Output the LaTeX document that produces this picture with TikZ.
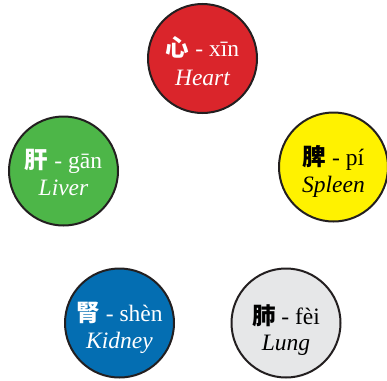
\documentclass[tikz,border=0pt]{standalone}
\usepackage{fontspec}
\setmainfont{Liberation Serif}
\newfontfamily\cjk{Noto Sans CJK SC}
\usetikzlibrary{calc}
\definecolor{hred}{RGB}{218,37,43}
\definecolor{hgreen}{RGB}{77,182,72}
\definecolor{hyellow}{RGB}{255,242,0}
\definecolor{hblue}{RGB}{4,110,178}
\definecolor{hgray}{RGB}{230,231,232}
\definecolor{outl}{RGB}{35,31,32}
\begin{document}
\begin{tikzpicture}[x=1pt,y=-1pt,
  organ/.style={circle,draw=outl,line width=2pt,minimum size=109pt,inner sep=0pt},
  lineone/.style={anchor=base,inner sep=0pt,font=\fontsize{23.5}{27}\selectfont},
  linetwo/.style={anchor=base,inner sep=0pt,font=\fontsize{23.5}{27}\selectfont\itshape}]
\useasboundingbox (0,0) rectangle (387,380);
\node[organ,fill=hred] (heart) at (202.5,58.5) {};
\node[organ,fill=hgreen] (liver) at (63.5,171) {};
\node[organ,fill=hyellow] (spleen) at (333.5,167) {};
\node[organ,fill=hblue] (kidney) at (119.5,323) {};
\node[organ,fill=hgray] (lung) at (286,323) {};
\node[lineone,text=white] (heart1) at ($(heart)+(0,-2)$) {{\cjk\bfseries 心} - xīn};
\node[linetwo,text=white] (heart2) at ($(heart)+(0,27)$) {Heart};
\node[lineone,text=white] (liver1) at ($(liver)+(0,-3)$) {{\cjk\bfseries 肝} - gān};
\node[linetwo,text=white] (liver2) at ($(liver)+(0,24)$) {Liver};
\node[lineone,text=black] (spleen1) at ($(spleen)+(0,-2)$) {{\cjk\bfseries 脾} - pí};
\node[linetwo,text=black] (spleen2) at ($(spleen)+(0,25)$) {Spleen};
\node[lineone,text=white] (kidney1) at ($(kidney)+(0,-2)$) {{\cjk\bfseries 腎} - shèn};
\node[linetwo,text=white] (kidney2) at ($(kidney)+(0,25)$) {Kidney};
\node[lineone,text=black] (lung1) at ($(lung)+(0,1)$) {{\cjk\bfseries 肺} - fèi};
\node[linetwo,text=black] (lung2) at ($(lung)+(0,27)$) {Lung};
\end{tikzpicture}
\end{document}
